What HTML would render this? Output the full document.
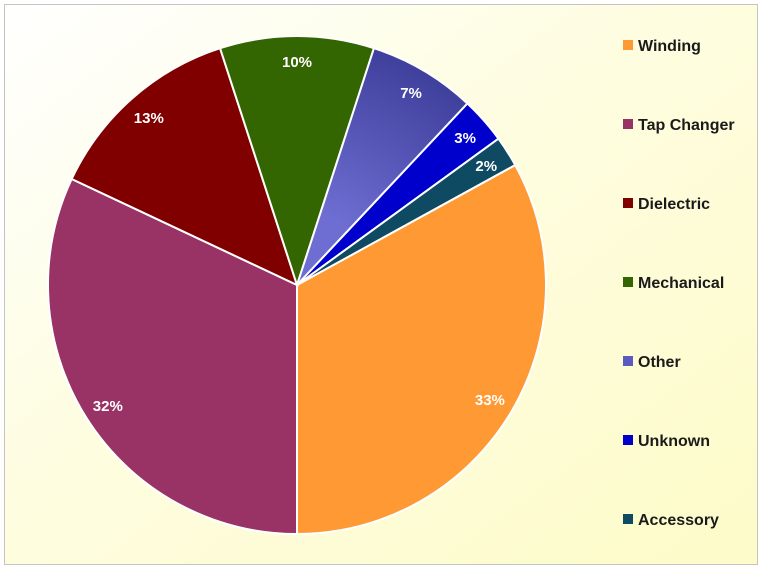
<!DOCTYPE html>
<html><head><meta charset="utf-8"><style>
html,body{margin:0;padding:0;background:#fff;}
#chart{position:relative;width:762px;height:569px;}
svg{display:block;font-family:"Liberation Sans",sans-serif;}
</style></head><body>
<div id="chart">
<svg id="svg" width="762" height="569" xmlns="http://www.w3.org/2000/svg">
<defs>
<linearGradient id="bg" x1="0" y1="0" x2="1" y2="1">
<stop offset="0" stop-color="#ffffff"/><stop offset="0.45" stop-color="#fefde0"/><stop offset="1" stop-color="#fdfbc8"/>
</linearGradient>
<radialGradient id="otherGrad" cx="297" cy="285" r="249" gradientUnits="userSpaceOnUse">
<stop offset="0.3" stop-color="#6e6ed2"/><stop offset="1" stop-color="#3f3f9c"/>
</radialGradient>
</defs>
<rect x="4.5" y="4.5" width="753" height="560" fill="url(#bg)" stroke="#c4c4c4"/>
<g id="slices"></g><g id="labels"></g><g id="legend"></g>
</svg>
</div>
<script>
const categories=["Winding","Tap Changer","Dielectric","Mechanical","Other","Unknown","Accessory"];
const values=[33,32,13,10,7,3,2];
const valueLabels=["33%","32%","13%","10%","7%","3%","2%"];
const colors=["#ff9933","#993366","#800000","#336600","url(#otherGrad)","#0000cc","#0e4a62"];
const legendColors=["#ff9933","#993366","#800000","#336600","#5a5ac0","#0000cc","#0e4a62"];
const NS="http://www.w3.org/2000/svg";
const cx=297,cy=285,R=249,startDeg=61.2;
const total=values.reduce((a,b)=>a+b,0);
function pt(deg,r){const a=deg*Math.PI/180;return [cx+r*Math.sin(a),cy-r*Math.cos(a)];}
const gS=document.getElementById('slices'),gL=document.getElementById('labels'),gG=document.getElementById('legend');
let ang=startDeg;
values.forEach((v,i)=>{
  const sw=v/total*360,a0=ang,a1=ang+sw;
  const p0=pt(a0,R),p1=pt(a1,R);
  const path=document.createElementNS(NS,'path');
  path.setAttribute('d',`M${cx},${cy}L${p0[0]},${p0[1]}A${R},${R} 0 ${sw>180?1:0} 1 ${p1[0]},${p1[1]}Z`);
  path.setAttribute('fill',colors[i]);path.setAttribute('stroke','#fff');path.setAttribute('stroke-width','2');
  
  
  gS.appendChild(path);
  const lp=pt((a0+a1)/2,R*0.9);
  const t=document.createElementNS(NS,'text');
  t.setAttribute('x',lp[0]);t.setAttribute('y',lp[1]+6);t.setAttribute('text-anchor','middle');
  t.setAttribute('fill','#fff');t.setAttribute('font-weight','bold');t.setAttribute('font-size','15');
  t.textContent=valueLabels[i];
  
  
  gL.appendChild(t);
  ang=a1;
});
categories.forEach((c,i)=>{
  const y=45+i*79;
  const g=document.createElementNS(NS,'g');
  
  
  const r=document.createElementNS(NS,'rect');
  r.setAttribute('x',623);r.setAttribute('y',y-5);r.setAttribute('width',10);r.setAttribute('height',10);r.setAttribute('fill',legendColors[i]);
  const t=document.createElementNS(NS,'text');
  t.setAttribute('x',638);t.setAttribute('y',y+6);t.setAttribute('font-size','16');t.setAttribute('font-weight','bold');t.setAttribute('fill','#1a1a1a');
  t.textContent=c;
  g.appendChild(r);g.appendChild(t);gG.appendChild(g);
});
</script>
</body></html>
